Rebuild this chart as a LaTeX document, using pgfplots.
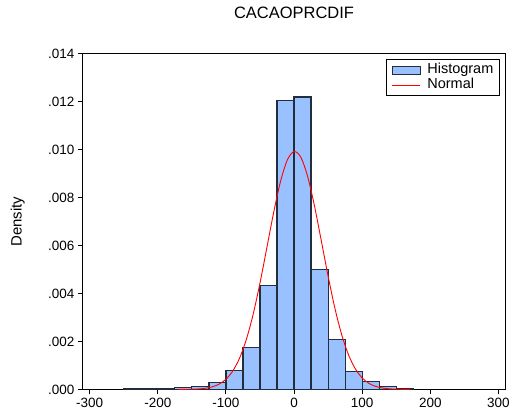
\documentclass[border=0pt]{standalone}
\usepackage{fontspec}
\setmainfont{Liberation Sans}
\usepackage{pgfplots}
\pgfplotsset{compat=1.18}
\definecolor{barfill}{RGB}{153,192,255}
\definecolor{baredge}{RGB}{35,45,60}
\begin{document}
\begin{tikzpicture}
\begin{axis}[
  scale only axis,
  width=423pt, height=336pt,
  xmin=-310, xmax=310, ymin=0, ymax=0.014,
  scaled y ticks=false,
  axis line style={line width=1.1pt, black},
  xtick={-300,-200,-100,0,100,200,300},
  xticklabels={-300,-200,-100,0,100,200,300},
  ytick={0,0.002,0.004,0.006,0.008,0.010,0.012,0.014},
  yticklabels={.000,.002,.004,.006,.008,.010,.012,.014},
  tick align=outside, tick pos=left,
  major tick length=5pt,
  tick style={line width=0.9pt, black},
  ticklabel style={font=\fontsize{13.5}{15}\selectfont},
  ylabel={\fontsize{15}{17}\selectfont Density},
  ylabel style={at={(axis description cs:-0.154,0.5)}, anchor=center},
  title={\fontsize{16.5}{18}\selectfont CACAOPRCDIF},
  title style={at={(axis description cs:0.5,1)}, anchor=center, yshift=35pt},
  legend cell align=left,
  legend style={at={(rel axis cs:1,1)}, anchor=north east, xshift=-5pt, yshift=-5pt,
    draw=black, line width=0.8pt, inner xsep=5pt, inner ysep=3pt,
    font=\fontsize{14.5}{15}\selectfont,
    nodes={inner sep=1.5pt, text height=10pt, text depth=2.5pt}, row sep=-0.5pt},
  clip=true,
]
\addplot[ybar interval, fill=barfill, draw=baredge, line width=1.2pt,
  legend image code/.code={\draw[fill=barfill, draw=baredge, line width=1pt] (0pt,-4pt) rectangle (28pt,4pt); \path (33pt,0pt);}]
coordinates {
(-250,0.00003) (-225,0.00003) (-200,0.00003) (-175,0.00007) (-150,0.00011)
(-125,0.00030) (-100,0.00078) (-75,0.00174) (-50,0.00435) (-25,0.01205)
(0,0.01220) (25,0.00500) (50,0.00207) (75,0.00074) (100,0.00032)
(125,0.000125) (150,0.00004) (175,0.00004)
};
\addlegendentry{Histogram}
\addplot[red, line width=0.9pt, smooth,
  legend image code/.code={\draw[red, line width=0.9pt] (0pt,0pt) -- (28pt,0pt); \path (33pt,0pt);}]
coordinates {
(-170,0.0000012) (-160,0.0000033) (-150,0.0000086) (-140,0.0000212) (-130,0.0000491)
(-120,0.0001071) (-110,0.0002195) (-100,0.0004231) (-90,0.0007662) (-80,0.001304)
(-70,0.002087) (-60,0.003141) (-50,0.004441) (-40,0.005903) (-30,0.007376)
(-20,0.008664) (-10,0.009566) (0,0.009927) (10,0.009685) (20,0.008880)
(30,0.007655) (40,0.006202) (50,0.004724) (60,0.003382) (70,0.002276)
(80,0.001440) (90,0.000856) (100,0.0004785) (110,0.0002514) (120,0.0001241)
(130,0.0000577) (140,0.0000252) (150,0.0000103) (160,0.0000040) (170,0.0000014)
};
\addlegendentry{Normal}
\coordinate (sw) at (rel axis cs:0,0);
\coordinate (ne) at (rel axis cs:1,1);
\end{axis}
\path ([shift={(-83pt,-27pt)}]sw) rectangle ([shift={(7pt,54pt)}]ne);
\end{tikzpicture}
\end{document}
